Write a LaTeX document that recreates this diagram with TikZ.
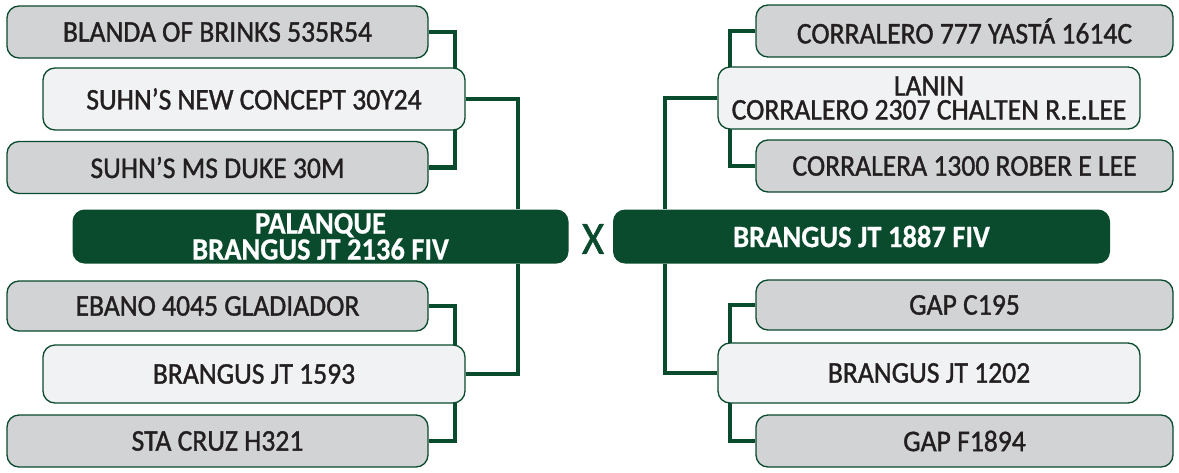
\documentclass[tikz,border=0pt]{standalone}
\usepackage{fontspec}
\setmainfont{Carlito}
\newfontfamily\lblfont{Carlito}[FakeStretch=0.92, FakeBold=1.2]
\newfontfamily\mainfont{Carlito Bold}[FakeStretch=0.92, FakeBold=0.6]
\usetikzlibrary{backgrounds}
\definecolor{dgreen}{HTML}{0A4A2D}
\definecolor{boxgray}{HTML}{D1D3D4}
\definecolor{boxlight}{HTML}{F1F2F3}
\definecolor{txt}{HTML}{231F20}
\begin{document}
\begin{tikzpicture}[x=1pt,y=-1pt,
  base/.style={draw=dgreen, line width=1.3pt, rounded corners=12pt, inner sep=0pt,
     text=txt, align=center, font=\lblfont\fontsize{30}{24}\selectfont},
  graybox/.style={base, fill=boxgray, minimum width=421pt, minimum height=52pt},
  lightbox/.style={base, fill=boxlight, minimum width=422pt, minimum height=62pt},
  mainbox/.style={fill=dgreen, rounded corners=12pt, inner sep=0pt, text=white,
     align=center, font=\mainfont\fontsize{31}{24}\selectfont,
     minimum width=496pt, minimum height=54pt},
  conn/.style={draw=dgreen, line width=4.5pt}]
\useasboundingbox (0,0) rectangle (1179,472);
% coordinates of vertical connector lines
\coordinate (lx1) at (455,0);
\coordinate (lx2) at (518,0);
\coordinate (rx1) at (730,0);
\coordinate (rx2) at (665,0);
% nodes
\node[graybox] (b1) at (217.5,32) {BLANDA OF BRINKS 535R54};
\node[lightbox] (b2) at (254,99) {SUHN’S NEW CONCEPT 30Y24};
\node[graybox] (b3) at (217.5,167.5) {SUHN’S MS DUKE 30M};
\node[graybox, minimum height=50pt] (b4) at (217.5,306) {EBANO 4045 GLADIADOR};
\node[lightbox, minimum height=58pt] (b5) at (254,374) {BRANGUS JT 1593};
\node[graybox] (b6) at (217.5,441) {STA CRUZ H321};
\node[mainbox] (m1) at (320.5,236.5) {PALANQUE\\BRANGUS JT 2136 FIV};
\node[mainbox, minimum width=497pt] (m2) at (861.5,236.5) {BRANGUS JT 1887 FIV};
\node[text=dgreen, inner sep=0pt, font=\lblfont\fontsize{46}{46}\selectfont] (x) at (593,239) {X};
\node[graybox, minimum width=417pt] (r1) at (964.5,31) {CORRALERO 777 YASTÁ 1614C};
\node[lightbox] (r2) at (929,98) {LANIN\\CORRALERO 2307 CHALTEN R.E.LEE};
\node[graybox, minimum width=417pt] (r3) at (964.5,166) {CORRALERA 1300 ROBER E LEE};
\node[graybox, minimum width=417pt, minimum height=50pt] (r4) at (964.5,305) {GAP C195};
\node[lightbox, minimum height=60pt] (r5) at (929,373) {BRANGUS JT 1202};
\node[graybox, minimum width=417pt] (r6) at (964.5,441) {GAP F1894};
% connectors (behind boxes)
\begin{scope}[on background layer]
\draw[conn] (b1.east) -| (lx1 |- b3.east) -- (b3.east);
\draw[conn] (b4.east) -| (lx1 |- b6.east) -- (b6.east);
\draw[conn] (b2.east) -| (lx2 |- m1.north);
\draw[conn] (lx2 |- m1.south) |- (b5.east);
\draw[conn] (r1.west) -| (rx1 |- r3.west) -- (r3.west);
\draw[conn] (r4.west) -| (rx1 |- r6.west) -- (r6.west);
\draw[conn] (r2.west) -| (rx2 |- m2.north);
\draw[conn] (rx2 |- m2.south) |- (r5.west);
\end{scope}
\end{tikzpicture}
\end{document}
